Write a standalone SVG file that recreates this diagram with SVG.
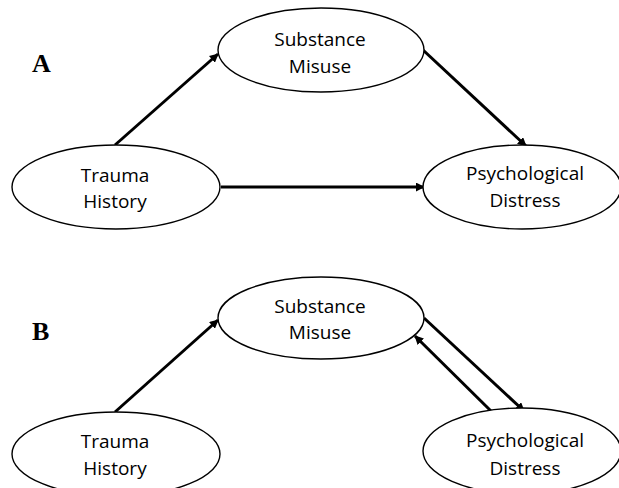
<svg xmlns="http://www.w3.org/2000/svg" width="619" height="488" viewBox="0 0 619 488">
<style>
.node ellipse{fill:#fff;stroke:#000;stroke-width:1.4}
.node text{font-family:"Open Sans","DejaVu Sans",sans-serif;font-size:19px;fill:#000;text-anchor:middle}
.lbl{font-family:"Liberation Serif",serif;font-weight:bold;font-size:26px;fill:#000}
.conn line{stroke:#000;stroke-width:3;fill:none}
</style>
<defs>
<marker id="ah" viewBox="0 0 10 10" refX="9" refY="5" markerWidth="3" markerHeight="3" orient="auto" markerUnits="strokeWidth">
<path d="M0,0 L10,5 L0,10 z" fill="#000"/>
</marker>
</defs>
<rect width="619" height="488" fill="#fff"/>
<text class="lbl" x="32" y="72">A</text>
<text class="lbl" x="32" y="340">B</text>
<g class="conn">
<line x1="115" y1="145" x2="218" y2="54" marker-end="url(#ah)"/>
<line x1="221" y1="187" x2="424" y2="187" marker-end="url(#ah)"/>
<line x1="423" y1="50" x2="526" y2="146" marker-end="url(#ah)"/>
<line x1="115" y1="412" x2="218" y2="320" marker-end="url(#ah)"/>
<line x1="424" y1="318" x2="524" y2="411" marker-end="url(#ah)"/>
<line x1="493" y1="413" x2="415" y2="336" marker-end="url(#ah)"/>
</g>
<g id="substanceA" class="node"><ellipse cx="321" cy="50" rx="103" ry="42"/><text x="320" y="46">Substance</text><text x="320" y="73">Misuse</text></g>
<g id="traumaA" class="node"><ellipse cx="116" cy="187" rx="104" ry="42"/><text x="115" y="182">Trauma</text><text x="115" y="208">History</text></g>
<g id="psychA" class="node"><ellipse cx="522" cy="187" rx="99" ry="42"/><text x="525" y="180">Psychological</text><text x="525" y="207">Distress</text></g>
<g id="substanceB" class="node"><ellipse cx="321" cy="318" rx="103" ry="41"/><text x="320" y="313">Substance</text><text x="320" y="339">Misuse</text></g>
<g id="traumaB" class="node"><ellipse cx="116" cy="454" rx="104" ry="42"/><text x="115" y="448">Trauma</text><text x="115" y="475">History</text></g>
<g id="psychB" class="node"><ellipse cx="522" cy="451" rx="99" ry="43"/><text x="525" y="447">Psychological</text><text x="525" y="475">Distress</text></g>
</svg>
